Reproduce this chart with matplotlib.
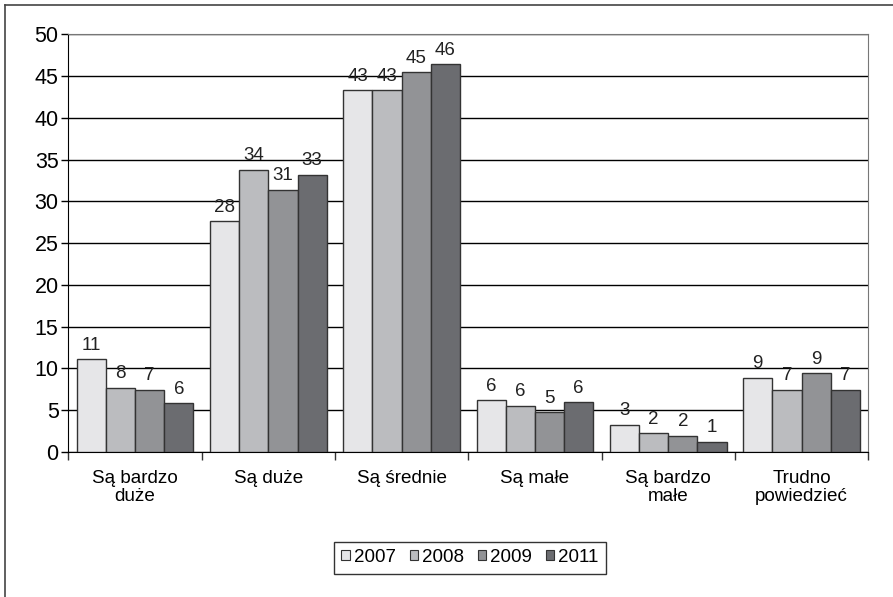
import matplotlib
matplotlib.use("Agg")
import matplotlib.pyplot as plt
import numpy as np
from matplotlib.lines import Line2D

plt.rcParams['font.family'] = ['Liberation Sans', 'DejaVu Sans']

categories = ["Są bardzo\nduże", "Są duże", "Są średnie", "Są małe", "Są bardzo\nmałe", "Trudno\npowiedzieć"]
years = ["2007", "2008", "2009", "2011"]
v2007 = [11.1, 27.6, 43.3, 6.2, 3.27, 8.9]
v2008 = [7.66, 33.8, 43.3, 5.5, 2.24, 7.45]
v2009 = [7.46, 31.4, 45.45, 4.75, 1.92, 9.42]
v2011 = [5.83, 33.2, 46.4, 5.95, 1.24, 7.46]
colors = ["#e6e6e8", "#bbbcbf", "#929396", "#6b6c70"]

fig = plt.figure(figsize=(8.93, 5.97), dpi=100)
ax = fig.add_axes([0.0765, 0.2429, 0.8958, 0.6996])

x = np.arange(len(categories))
w = 0.219
series = [v2007, v2008, v2009, v2011]
for i, (vals, yr, c) in enumerate(zip(series, years, colors)):
    bars = ax.bar(x + (i - 1.5) * w, vals, w, color=c, edgecolor="#333333",
                  linewidth=1.0, label=yr, zorder=3)
    ax.bar_label(bars, fmt="%.0f", padding=4, fontsize=13.5, color="#222222")

ax.set_xlim(-0.5, len(categories) - 0.5)
ax.set_ylim(0, 50)
ax.set_yticks(range(0, 51, 5))
ax.yaxis.grid(True, color="black", linewidth=1.0, zorder=0)
ax.set_axisbelow(True)

ax.set_xticks(np.arange(len(categories) + 1) - 0.5)
ax.set_xticklabels([])
ax.set_xticks(x, minor=True)
ax.set_xticklabels(categories, minor=True, fontsize=13.6, linespacing=1.1)
ax.tick_params(axis="x", which="minor", length=0, pad=13)
ax.tick_params(axis="x", which="major", length=6, width=1, color="#333333")
ax.tick_params(axis="y", length=5, width=1, labelsize=15.5, pad=2)

ax.spines["left"].set_color("black")
ax.spines["bottom"].set_color("black")
ax.spines["top"].set_color("#777777")
ax.spines["right"].set_color("#777777")

leg = fig.legend(loc="center", bbox_to_anchor=(0.5263, 0.066), ncol=4, fontsize=13.5,
                 frameon=True, fancybox=False, edgecolor="black", handlelength=0.45,
                 handleheight=0.45, handletextpad=0.2, columnspacing=0.75,
                 borderpad=0.4)
leg.get_frame().set_linewidth(1.0)
for h in leg.legend_handles:
    h.set_edgecolor("#333333")
    h.set_linewidth(0.8)

# outer frame
fig.add_artist(Line2D([5 / 893, 5 / 893], [1 - 5 / 597, 0], color="#444444", linewidth=1.2))
fig.add_artist(Line2D([5 / 893, 1], [1 - 5 / 597, 1 - 5 / 597], color="#444444", linewidth=1.2))

fig.savefig("out.png", dpi=100)
